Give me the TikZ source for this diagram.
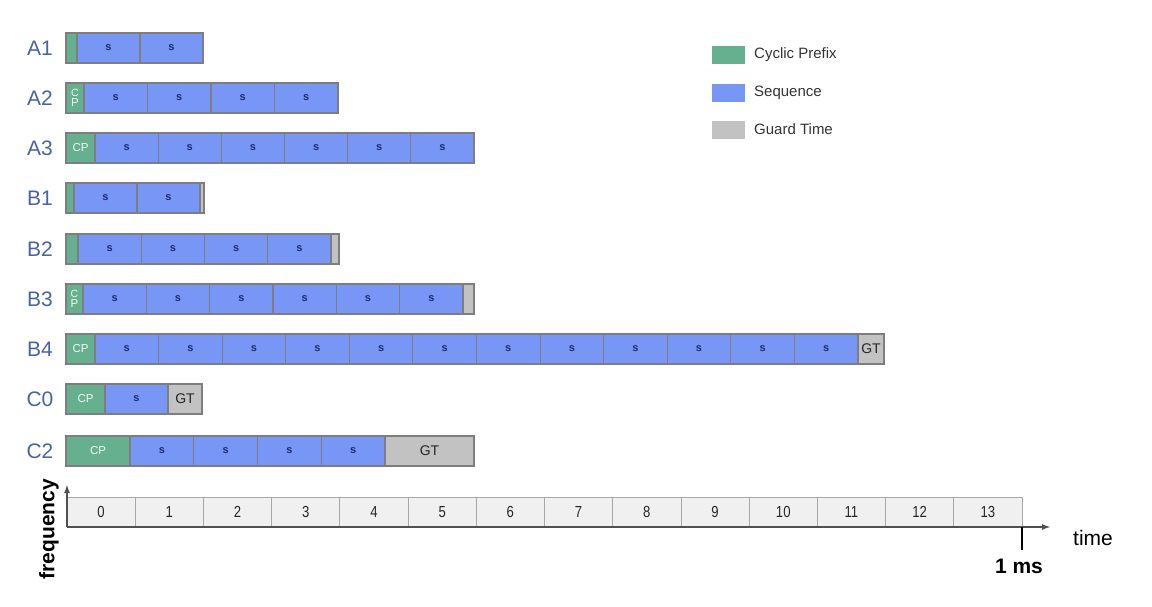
\documentclass[tikz,border=0pt]{standalone}
\usepackage{fontspec}
\setmainfont{Liberation Sans}
\newfontfamily\narrowfont[FakeStretch=0.82]{Liberation Sans}
\usetikzlibrary{arrows.meta}
\definecolor{cpgreen}{HTML}{66B08F}
\definecolor{seqblue}{HTML}{7896F5}
\definecolor{gtgray}{HTML}{C2C2C2}
\definecolor{edgegray}{HTML}{7E7E80}
\definecolor{labblue}{HTML}{4863A6}
\definecolor{snavy}{HTML}{1E2C70}
\definecolor{cellfill}{HTML}{F0F0F0}
\definecolor{celledge}{HTML}{A8A8A8}
\definecolor{axisgray}{HTML}{505050}
\tikzset{
  boxbase/.style={draw=edgegray, line width=1.1pt, inner sep=0pt, rectangle},
  cpbox/.style={boxbase, fill=cpgreen, text=white!92!cpgreen, font=\fontsize{11.5}{10}\selectfont, align=center},
  seqbox/.style={boxbase, fill=seqblue, text=snavy, font=\fontsize{11}{12}\selectfont\bfseries},
  gtbox/.style={boxbase, fill=gtgray, text=black!85, font=\fontsize{14}{14}\selectfont},
  rowlabel/.style={text=labblue, font=\fontsize{21}{21}\selectfont, inner sep=0pt},
  tcell/.style={draw=celledge, line width=0.8pt, fill=cellfill, inner sep=0pt, rectangle, font=\narrowfont\fontsize{16}{16}\selectfont, text=black!85},
  legbox/.style={inner sep=0pt, rectangle, minimum width=33pt, minimum height=18pt},
  legtext/.style={anchor=west, inner sep=0pt, font=\fontsize{15}{15}\selectfont, text=black!80},
  axisline/.style={draw=axisgray, line width=1.8pt},
}
\newcommand\cellbox[6]{% name, style, x1, x2, ytop, text
  \node[#2, minimum width={(#4-#3)*1pt}, minimum height=30pt] (#1) at ({(#3+#4)/2},{#5+15}) {#6};}
\newcommand\seqcells[5]{% rowname, ytop, xstart, count, xend
  \foreach \k in {1,...,#4} {
    \pgfmathsetmacro\xa{#3+(\k-1)*(#5-#3)/#4}
    \pgfmathsetmacro\xb{#3+\k*(#5-#3)/#4}
    \cellbox{#1s\k}{seqbox}{\xa}{\xb}{#2}{s}
  }}
\begin{document}
\begin{tikzpicture}[x=1pt,y=-1pt]
\useasboundingbox (0,0) rectangle (1152,606);
% row labels
\node[rowlabel] (lA1) at (40,48) {A1};
\node[rowlabel] (lA2) at (40,98) {A2};
\node[rowlabel] (lA3) at (40,148) {A3};
\node[rowlabel] (lB1) at (40,198) {B1};
\node[rowlabel] (lB2) at (40,249) {B2};
\node[rowlabel] (lB3) at (40,299) {B3};
\node[rowlabel] (lB4) at (40,349) {B4};
\node[rowlabel] (lC0) at (40,399) {C0};
\node[rowlabel] (lC2) at (40,451) {C2};
% A1
\cellbox{A1cp}{cpbox}{66}{77}{33}{}
\seqcells{A1}{33}{77}{2}{203}
% A2
\cellbox{A2cp}{cpbox}{66}{84}{83}{\fontsize{10.5}{10}\selectfont C\\P}
\seqcells{A2}{83}{84}{4}{338}
% A3
\cellbox{A3cp}{cpbox}{66}{95}{133}{CP}
\seqcells{A3}{133}{95}{6}{474}
% B1
\cellbox{B1cp}{cpbox}{66}{74}{183}{}
\seqcells{B1}{183}{74}{2}{200}
\cellbox{B1gt}{gtbox}{200}{204}{183}{}
% B2
\cellbox{B2cp}{cpbox}{66}{78}{234}{}
\seqcells{B2}{234}{78}{4}{331}
\cellbox{B2gt}{gtbox}{331}{339}{234}{}
% B3
\cellbox{B3cp}{cpbox}{66}{83}{284}{\fontsize{10.5}{10}\selectfont C\\P}
\seqcells{B3}{284}{83}{6}{463}
\cellbox{B3gt}{gtbox}{463}{474}{284}{}
% B4
\cellbox{B4cp}{cpbox}{66}{95}{334}{CP}
\seqcells{B4}{334}{95}{12}{858}
\cellbox{B4gt}{gtbox}{858}{884}{334}{GT}
% C0
\cellbox{C0cp}{cpbox}{66}{105}{384}{CP}
\seqcells{C0}{384}{105}{1}{168}
\cellbox{C0gt}{gtbox}{168}{202}{384}{GT}
% C2
\cellbox{C2cp}{cpbox}{66}{130}{436}{CP}
\seqcells{C2}{436}{130}{4}{385}
\cellbox{C2gt}{gtbox}{385}{474}{436}{GT}
% legend
\node[legbox, fill=cpgreen] (legcp) at (728.5,55) {};
\node[legbox, fill=seqblue] (legseq) at (728.5,93) {};
\node[legbox, fill=gtgray] (leggt) at (728.5,129.5) {};
\node[legtext] (legcpt) at (754,55) {Cyclic Prefix};
\node[legtext] (legseqt) at (754,93) {Sequence};
\node[legtext] (leggtt) at (754,129.5) {Guard Time};
% timeline
\foreach \i in {0,...,13} {
  \pgfmathsetmacro\ta{67+\i*68.214}
  \node[tcell, minimum width=68.214pt, minimum height=30pt] (t\i) at ({\ta+34.107},512) {\i};
}
% axes
\coordinate (orig) at (67,527);
\coordinate (ytop) at (67,484);
\coordinate (xend) at (1051,527);
\coordinate (tickt) at (1022,527);
\coordinate (tickb) at (1022,550);
\draw[axisline, -{Latex[length=9pt,width=6pt]}] (orig) -- (xend);
\draw[axisline, -{Latex[length=9pt,width=6pt]}] (orig) -- (ytop);
\draw[line width=2.2pt, black] (tickt) -- (tickb);
\node[rotate=90, inner sep=0pt, font=\fontsize{21}{21}\selectfont\bfseries] (freq) at (49,529) {frequency};
\node[inner sep=0pt, font=\fontsize{21}{21}\selectfont] (timel) at (1093,538) {time};
\node[inner sep=0pt, font=\fontsize{21}{21}\selectfont\bfseries] (onems) at (1019,566) {1 ms};
\end{tikzpicture}
\end{document}
